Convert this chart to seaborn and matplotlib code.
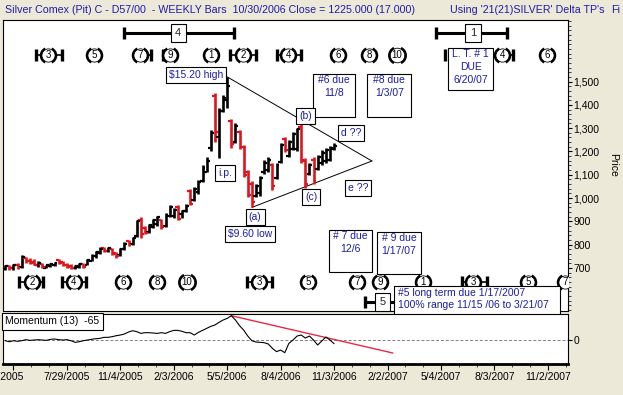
import matplotlib
matplotlib.use("Agg")
import matplotlib.pyplot as plt
import matplotlib.transforms as mtransforms
import numpy as np
import pandas as pd
import seaborn as sns
from matplotlib.patches import Rectangle
from matplotlib.path import Path
from matplotlib.ticker import FixedLocator, FuncFormatter, MultipleLocator

# weekly bars, week 0 = mid April 2005 ... week 80 = 10/30/2006
OPEN = [695, 708, 698, 714, 704, 745, 730, 725, 712, 718,
        702, 708, 712, 735, 724, 715, 710, 698, 704, 718,
        714, 732, 750, 766, 786, 774, 782, 765, 756, 782,
        815, 804, 836, 905, 870, 856, 878, 890, 905, 880,
        925, 925, 962, 930, 945, 1030, 992, 1025, 1075, 1110,
        1215, 1440, 1260, 1375, 1420, 1330, 1240, 1285, 1220, 1110,
        1060, 1010, 1020, 1110, 1120, 1140, 1085, 1155, 1255, 1180,
        1210, 1210, 1305, 1160, 1105, 1165, 1125, 1150, 1160, 1165,
        1210]
HIGH = [713, 712, 718, 720, 756, 748, 745, 738, 728, 722,
        715, 720, 725, 740, 732, 722, 716, 714, 720, 722,
        740, 758, 775, 788, 792, 790, 786, 770, 785, 810,
        820, 835, 906, 918, 880, 890, 910, 925, 912, 935,
        970, 958, 970, 950, 975, 1040, 1048, 1078, 1140, 1175,
        1290, 1450, 1385, 1442, 1520, 1340, 1322, 1290, 1228, 1120,
        1075, 1060, 1095, 1163, 1176, 1150, 1150, 1236, 1262, 1249,
        1283, 1300, 1320, 1170, 1150, 1176, 1185, 1206, 1215, 1225,
        1235]
LOW = [691, 690, 693, 695, 700, 722, 718, 712, 706, 700,
       698, 704, 708, 716, 708, 702, 697, 695, 700, 702,
       712, 728, 745, 760, 768, 770, 755, 745, 752, 778,
       795, 800, 832, 830, 845, 852, 870, 880, 868, 875,
       920, 915, 905, 915, 940, 970, 988, 1018, 1070, 1110,
       1200, 1240, 1170, 1370, 1385, 1215, 1235, 1210, 1090, 1005,
       960, 1005, 1010, 1105, 1110, 1035, 1080, 1150, 1198, 1176,
       1206, 1200, 1150, 1045, 1100, 1060, 1120, 1142, 1150, 1160,
       1205]
CLOSE = [708, 698, 714, 702, 748, 728, 722, 715, 722, 704,
         712, 716, 722, 720, 712, 705, 700, 710, 716, 706,
         735, 752, 770, 782, 772, 786, 760, 750, 780, 805,
         800, 830, 900, 845, 850, 884, 905, 918, 875, 928,
         962, 950, 912, 945, 968, 975, 1040, 1070, 1130, 1160,
         1280, 1285, 1375, 1430, 1480, 1230, 1310, 1220, 1100, 1015,
         985, 1050, 1085, 1150, 1165, 1050, 1140, 1228, 1205, 1240,
         1275, 1295, 1165, 1060, 1140, 1075, 1175, 1195, 1205, 1215,
         1225]
MOMENTUM = [-12, -30, -12, -23, -12, 6, -6, 0, 6, 0,
            -6, 12, 18, 6, 0, 6, -12, -41, -30, -12,
            0, 12, 23, 29, 47, 47, 59, 76, 88, 106,
            141, 164, 147, 117, 129, 129, 123, 117, 129, 117,
            147, 170, 170, 153, 129, 129, 88, 135, 170, 205,
            240, 264, 311, 352, 381, 428, 352, 252, 176, 70,
            -12, -35, -41, -47, -70, -147, -205, -176, -223, -59,
            0, 70, 88, 35, 70, 0, -88, -18, 53, 0,
            -65]

DATE_LABELS = ["4/29/2005", "7/29/2005", "11/4/2005", "2/3/2006", "5/5/2006", "8/4/2006",
               "11/3/2006", "2/2/2007", "5/4/2007", "8/3/2007", "11/2/2007"]
DATE_WEEKS = [2, 15, 28, 41, 54, 67, 80, 93, 106, 119, 132]

# triangle: high (54), low (60), apex
APEX = (89.2, 1159)
MOM_TREND_END = (94.3, -229)

# cycle markers
TOP_WEEKS = [10.4, 21.6, 32.8, 40.1, 50.1, 57.9, 68.8, 81.0, 88.5, 95.3, 120.9, 131.8]
TOP_LABELS = ["3", "5", "7", "9", "1", "2", "4", "6", "8", "10", "4", "6"]
TOP_BARS = [7.5, 13.8, 35.5, 38.4, 54.7, 61.0, 66.1, 72.0, 107.0, 123.5]
BOT_WEEKS = [6.5, 16.7, 28.7, 37.0, 44.2, 61.8, 73.7, 85.6, 91.2, 101.6, 113.8, 127.2, 136.2]
BOT_LABELS = ["2", "4", "6", "8", "10", "3", "5", "7", "9", "1", "3", "5", "7"]
BOT_BARS = [3.4, 9.2, 13.8, 19.7, 58.8, 64.9, 111.1, 117.2]
TOP_Y, BOT_Y = 1614, 640

BG = "#ECE9D8"
NAVY = "#1C1CA8"
RED = "#E0141C"
FS = 7.5

sns.set_style("white")
plt.rcParams["font.family"] = ["Liberation Sans", "DejaVu Sans"]

fig = plt.figure(figsize=(6.23, 3.95), dpi=100, facecolor=BG)
ax = fig.add_axes([3 / 623, 84 / 395, 565 / 623, 291 / 395])
axm = fig.add_axes([3 / 623, 31 / 395, 565 / 623, 50 / 395])
for a in (ax, axm):
    a.set_facecolor("white")
    a.set_xlim(-0.54, 136.9)
    for s in a.spines.values():
        s.set_color("black")
        s.set_linewidth(0.8)
axm.spines["bottom"].set_linewidth(2)

# price bars
bars = pd.DataFrame({"week": np.arange(len(CLOSE)), "open": OPEN, "high": HIGH,
                     "low": LOW, "close": CLOSE})
colors = np.where(bars["close"] < bars["open"], RED, "black")
ax.vlines(bars["week"], bars["low"], bars["high"], colors=colors, lw=1.9, zorder=3)
ax.hlines(bars["open"], bars["week"] - 0.7, bars["week"], colors=colors, lw=1.6, zorder=3)
ax.hlines(bars["close"], bars["week"], bars["week"] + 0.7, colors=colors, lw=1.6, zorder=3)

# triangle
ax.plot([54, APEX[0]], [HIGH[54], APEX[1]], color="black", lw=0.7, zorder=2)
ax.plot([60, APEX[0]], [LOW[60], APEX[1]], color="black", lw=0.7, zorder=2)

ax.set_ylim(515.5, 1764)
ax.set_xticks([])
ax.yaxis.tick_right()
ax.set_yticks(range(700, 1600, 100))
ax.yaxis.set_major_formatter(FuncFormatter(lambda v, p: f"{v:,.0f}"))
ax.yaxis.set_minor_locator(MultipleLocator(20))
ax.tick_params(axis="y", which="major", right=True, length=3, width=0.8, pad=1,
               labelsize=FS, colors="black", direction="out")
ax.tick_params(axis="y", which="minor", right=True, length=1.8, width=0.6, direction="out")

LEFT_ARC = Path.arc(115, 245)
RIGHT_ARC = Path.arc(-65, 65)


def cycle(x, y, lbl):
    wide = len(lbl) > 1
    ax.plot([x], [y], marker="o", ms=10.5 if wide else 9.5, mfc="white", mec="black", mew=0.6,
            ls="none", zorder=6)
    for arc in (LEFT_ARC, RIGHT_ARC):
        ax.plot([x], [y], marker=arc, ms=12 if wide else 11, mfc="none", mec="black", mew=1.6,
                ls="none", zorder=6)
    ax.text(x, y, lbl, fontsize=7, ha="center", va="center", zorder=7, color="black")


for weeks, labels, bars_, y in ((TOP_WEEKS, TOP_LABELS, TOP_BARS, TOP_Y),
                                (BOT_WEEKS, BOT_LABELS, BOT_BARS, BOT_Y)):
    w = np.array(weeks)
    for b in bars_:
        c = w[int(np.argmin(np.abs(w - b)))]
        if abs(c - b) < 5:
            ax.plot([b, c], [y, y], color="black", lw=1.2, zorder=5)
        ax.plot([b], [y], marker="|", ms=8, mew=2.4, color="black", zorder=5)
    for x, lbl in zip(weeks, labels):
        cycle(x, y, lbl)

# ranges with boxed counts
for x0, x1, xc, lbl, y in ((28.9, 55.7, 42.1, "4", 1708), (104.8, 122.1, 113.8, "1", 1708),
                           (87.6, 100.0, 91.7, "5", 554)):
    ax.plot([x0, x1], [y, y], color="black", lw=2.2, zorder=5, solid_capstyle="butt")
    ax.plot([x0, x1], [y, y], marker="|", ms=9, mew=2.4, color="black", ls="none", zorder=5)
    ax.text(xc, y, lbl, fontsize=8, ha="center", va="center", zorder=8,
            bbox=dict(boxstyle="square,pad=0.4", fc="white", ec="black", lw=0.8))

# small labelled boxes
for txt, x, y in (("$15.20 high", 46.4, 1528), ("i.p.", 53.5, 1108), ("(a)", 60.8, 919),
                  ("$9.60 low", 59.6, 846), ("(b)", 73.0, 1352), ("(c)", 74.4, 1005),
                  ("d ??", 84.1, 1279), ("e ??", 85.8, 1043)):
    ax.text(x, y, txt, fontsize=FS, color=NAVY, ha="center", va="center", zorder=10,
            bbox=dict(boxstyle="square,pad=0.3", fc="white", ec="black", lw=0.8))

# due notes
for x0, x1, ytop, ybot, txt, tx, ty, ha in (
        (74.9, 85.1, 1532, 1348, "#6 due\n11/8", 80.0, 1528, "center"),
        (88.0, 98.7, 1532, 1348, "#8 due\n1/3/07", 93.4, 1528, "center"),
        (78.8, 89.2, 863, 683, "# 7 due\n12/6", 84.0, 858, "center"),
        (90.5, 101.2, 854, 674, "# 9 due\n1/17/07", 95.8, 850, "center"),
        (107.7, 118.7, 1644, 1464, "L. T. # 1\nDUE\n6/20/07", 113.2, 1640, "center"),
        (94.6, 135.0, 623, 494, "#5 long term due 1/17/2007\n100% range 11/15 /06 to 3/21/07",
         95.6, 616, "left")):
    ax.add_patch(Rectangle((x0, ybot), x1 - x0, ytop - ybot, fc="white", ec="black",
                           lw=0.8, zorder=9, clip_on=False))
    ax.text(tx, ty, txt, fontsize=FS, color=NAVY, ha=ha, va="top", multialignment=ha,
            linespacing=1.35, zorder=10, clip_on=False)

# momentum
mom = pd.DataFrame({"week": np.arange(len(MOMENTUM)), "momentum": MOMENTUM})
axm.axhline(0, color="#808080", lw=0.7, ls=(0, (3, 2)), zorder=1)
sns.lineplot(data=mom, x="week", y="momentum", color="black", lw=0.8, ax=axm, zorder=3)
axm.plot([55, MOM_TREND_END[0]], [MOMENTUM[55], MOM_TREND_END[1]], color="#E8284A", lw=1, zorder=2)
axm.set_ylim(-422, 458)
axm.set_xlabel("")
axm.set_ylabel("")
axm.yaxis.tick_right()
axm.set_yticks([0])
axm.tick_params(axis="y", right=True, length=3, labelsize=FS, colors="black", pad=1)
axm.set_xticks(DATE_WEEKS)
axm.set_xticklabels(DATE_LABELS)
axm.xaxis.set_minor_locator(FixedLocator([2 + k * 13 / 3 for k in range(0, 33)]))
axm.tick_params(axis="x", which="major", bottom=True, length=4, width=0.8, labelsize=FS,
                colors="black", pad=2, direction="out")
axm.tick_params(axis="x", which="minor", bottom=True, length=2, width=0.6, direction="out")
first = axm.get_xticklabels()[0]
first.set_transform(first.get_transform()
                    + mtransforms.ScaledTranslation(-13 / 100, 0, fig.dpi_scale_trans))
axm.text(0.004, 0.95, "Momentum (13)  -65", transform=axm.transAxes, fontsize=FS, va="top",
         ha="left", color="black", zorder=10,
         bbox=dict(boxstyle="square,pad=0.3", fc="white", ec="black", lw=0.8))

# header texts
fig.text(5 / 623, 1 - 10 / 395,
         "Silver Comex (Pit) C - D57/00  - WEEKLY Bars  10/30/2006 Close = 1225.000 (17.000)",
         color=NAVY, fontsize=7.7, va="center")
fig.text(450 / 623, 1 - 10 / 395, "Using '21(21)SILVER' Delta TP's", color=NAVY, fontsize=7.7,
         va="center")
fig.text(611 / 623, 1 - 10 / 395, "Fi", color=NAVY, fontsize=7.7, va="center")
fig.text(613 / 623, 1 - 165 / 395, "Price", rotation=270, fontsize=FS, va="center",
         ha="center", color="black")

fig.savefig("out.png", dpi=100, facecolor=BG)
